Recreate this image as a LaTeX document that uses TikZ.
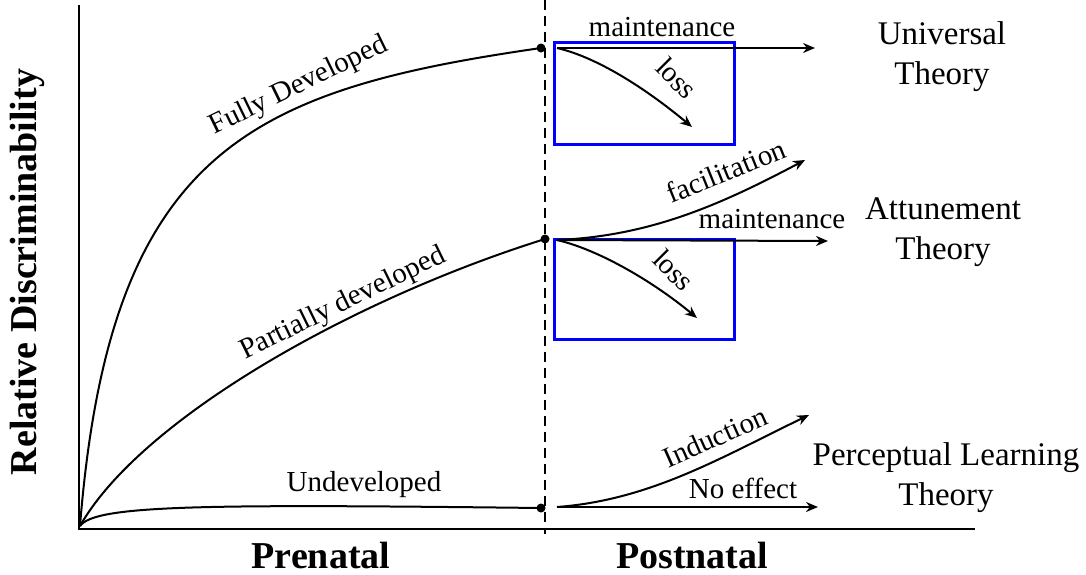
\documentclass[tikz,border=0pt]{standalone}
\usepackage{fontspec}
\setmainfont{Liberation Serif}
\usetikzlibrary{arrows.meta}

\begin{document}
\begin{tikzpicture}[x=0.5pt, y=-0.5pt, >={Stealth[length=6pt, width=5pt]},
  % Axes and curves
  axis/.style={line width=1.2pt},
  curve/.style={line width=1pt},
  % Postnatal arrows
  outcome/.style={->, line width=1pt},
  % Blue highlight boxes
  bluebox/.style={draw=blue, line width=1.5pt},
  dot/.style={circle, fill=black, inner sep=0pt, minimum size=4.5pt},
  lbl/.style={font=\fontsize{14.5}{17}\selectfont, inner sep=1pt},
  theory/.style={font=\fontsize{16.5}{20}\selectfont, align=center},
  axislbl/.style={font=\fontsize{19}{22}\selectfont\bfseries, inner sep=0pt}
]
  \useasboundingbox (0,0) rectangle (1086,574);

  % Axes
  \coordinate (origin) at (79,529);
  \coordinate (ytop) at (79,5);
  \coordinate (xend) at (975,529);
  \draw[axis] (ytop) -- (origin) -- (xend);
  \node[axislbl, rotate=90] (ylabel) at (27,272) {Relative Discriminability};
  \node[axislbl] (prenatal)  at (321,555) {Prenatal};
  \node[axislbl] (postnatal) at (692,555) {Postnatal};

  % Birth line
  \coordinate (birthtop) at (545,0);
  \coordinate (birthbot) at (545,534);
  \draw[line width=1pt, dash pattern=on 5pt off 3pt] (birthtop) -- (birthbot);

  % Prenatal curves
  \coordinate (start) at (80,526);
  \node[dot] (full) at (541,48) {};
  \node[dot] (part) at (545,239) {};
  \node[dot] (undev) at (541,508) {};
  \draw[curve] (start) .. controls (110,150) and (250,90) .. (full.center);
  \draw[curve] (start) .. controls (140,420) and (350,300) .. (part.center);
  \draw[curve] (start) .. controls (95,505) and (200,504) .. (undev.center);
  \node[lbl, rotate=26] (fulllbl) at (299,86) {Fully Developed};
  \node[lbl, rotate=26] (partlbl) at (343,304) {Partially developed};
  \node[lbl] (undevlbl) at (364,485) {Undeveloped};

  % Blue boxes
  \draw[bluebox] (554,42) rectangle (734,144);
  \draw[bluebox] (554,239) rectangle (734,339);

  % Universal theory
  \coordinate (fullout) at (557,48);
  \coordinate (fullmaint) at (815,48);
  \coordinate (fullloss) at (692,127);
  \draw[outcome] (fullout) -- (fullmaint);
  \draw[outcome] (fullout) .. controls (600,58) and (650,92) .. (fullloss);
  \node[lbl] (maint1) at (662,27) {maintenance};
  \node[lbl, rotate=-45] (loss1) at (677,78) {loss};
  \node[theory] (universal) at (942,57) {Universal\\Theory};

  % Attunement theory
  \coordinate (partout) at (557,240);
  \coordinate (partfac) at (805,160);
  \coordinate (partmaint) at (828,241);
  \coordinate (partloss) at (697,318);
  \draw[outcome] (partout) .. controls (650,236) and (720,205) .. (partfac);
  \draw[outcome] (partout) -- (partmaint);
  \draw[outcome] (partout) .. controls (600,250) and (655,283) .. (partloss);
  \node[lbl, rotate=22] (faclbl) at (726,171) {facilitation};
  \node[lbl] (maint2) at (772,219) {maintenance};
  \node[lbl, rotate=-45] (loss2) at (674,270) {loss};
  \node[theory] (attune) at (943,232) {Attunement\\Theory};

  % Perceptual learning theory
  \coordinate (undevout) at (557,507);
  \coordinate (undevind) at (809,415);
  \coordinate (undevnone) at (818,507);
  \draw[outcome] (undevout) .. controls (650,500) and (720,458) .. (undevind);
  \draw[outcome] (undevout) -- (undevnone);
  \node[lbl, rotate=24] (indlbl) at (715,437) {Induction};
  \node[lbl] (nonelbl) at (743,488) {No effect};
  \node[theory] (perceptual) at (946,478) {Perceptual Learning\\Theory};

\end{tikzpicture}
\end{document}
